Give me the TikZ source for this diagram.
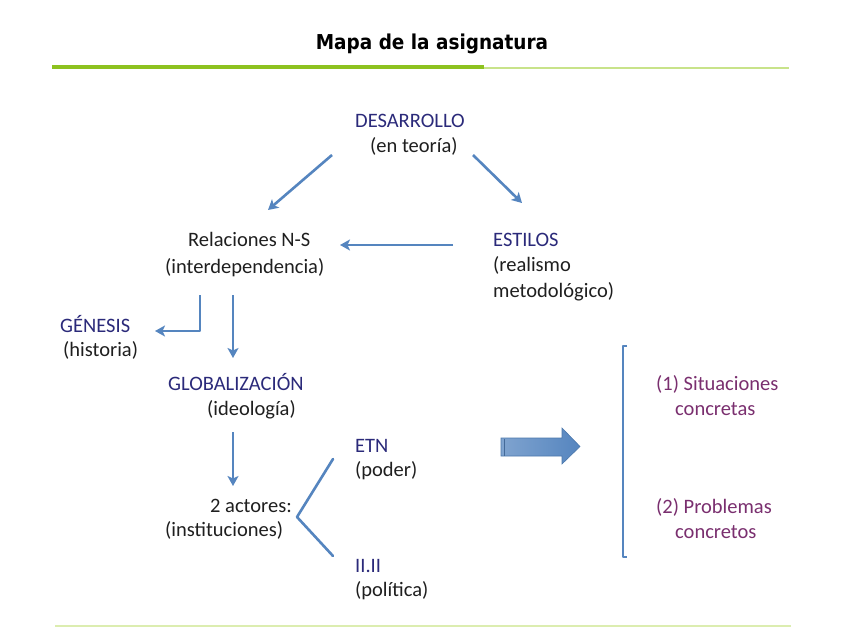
\documentclass[tikz,border=0pt]{standalone}
\usepackage{fontspec}
\setmainfont{Carlito}
\newfontfamily\titlefont[FakeStretch=0.9]{DejaVu Sans}
\usetikzlibrary{arrows.meta}
\definecolor{navy}{HTML}{2B2A7A}
\definecolor{txtgray}{HTML}{1F1F1F}
\definecolor{purp}{HTML}{7A2F6F}
\definecolor{arrblue}{HTML}{5585BF}
\definecolor{grnA}{HTML}{8DC21F}
\definecolor{grnB}{HTML}{C8E38A}
\definecolor{grnC}{HTML}{DCEDB0}
\tikzset{
  lbl/.style={inner sep=0pt, anchor=base west, font=\fontsize{20.5}{25}\selectfont},
  hd/.style={lbl, text=navy},
  sub/.style={lbl, text=txtgray},
  pur/.style={lbl, text=purp},
  arr/.style={draw=arrblue, line width=2.6pt, -{Stealth[length=10pt,width=11pt,inset=2.5pt]}},
  ln/.style={draw=arrblue, line width=2.6pt, line cap=round, line join=round},
}
\begin{document}
\begin{tikzpicture}[x=1pt,y=-1pt]
\useasboundingbox[fill=white] (0,0) rectangle (848,636);
% title and rules
\node[inner sep=0pt, anchor=base, font=\titlefont\bfseries\fontsize{20.5}{24}\selectfont] (title) at (432,50) {Mapa de la asignatura};
\draw[grnA, line width=4pt] (52,67) -- (484,67);
\draw[grnB, line width=2pt] (484,68) -- (789,68);
\draw[grnC, line width=2pt] (55,626) -- (791,626);
% texts
\node[hd] (des) at (355,128) {DESARROLLO};
\node[sub] (desb) at (370,153) {(en teoría)};
\node[sub] (rel) at (188,247) {Relaciones N-S};
\node[sub] (relb) at (165,273) {(interdependencia)};
\node[hd] (est) at (493,247) {ESTILOS};
\node[sub] (estb) at (493,272) {(realismo};
\node[sub] (estc) at (493,297) {metodológico)};
\node[hd] (gen) at (60,332) {GÉNESIS};
\node[sub] (genb) at (63,356) {(historia)};
\node[hd] (glo) at (168,390) {GLOBALIZACIÓN};
\node[sub] (glob) at (207,415) {(ideología)};
\node[sub] (act) at (210,512) {2 actores:};
\node[sub] (actb) at (165,536) {(instituciones)};
\node[hd] (etn) at (355,452) {ETN};
\node[sub] (etnb) at (355,476) {(poder)};
\node[hd] (ii) at (355,572) {II.II};
\node[sub] (iib) at (355,596) {(política)};
\node[pur] (sit) at (656,390) {(1) Situaciones};
\node[pur] (sitb) at (675,415) {concretas};
\node[pur] (pro) at (656,513) {(2) Problemas};
\node[pur] (prob) at (675,538) {concretos};
% connector ends
\coordinate (a1s) at (332,155); \coordinate (a1e) at (268,210);
\coordinate (a2s) at (473,155); \coordinate (a2e) at (522,203);
\coordinate (a3s) at (453,245); \coordinate (a3e) at (340,245);
\coordinate (g1) at (200,295); \coordinate (g2) at (200,331); \coordinate (g3) at (155,331);
\coordinate (b1) at (233,295); \coordinate (b2) at (233,358);
\coordinate (c1) at (233,432); \coordinate (c2) at (233,486);
\coordinate (k1) at (333,459); \coordinate (k2) at (297,517); \coordinate (k3) at (333,556);
% connectors
\draw[arr] (a1s) -- (a1e);
\draw[arr] (a2s) -- (a2e);
\draw[arr] (a3s) -- (a3e);
\draw[arr, line join=round] (g1) -- (g2) -- (g3);
\draw[arr] (b1) -- (b2);
\draw[arr] (c1) -- (c2);
\draw[ln] (k1) -- (k2) -- (k3);
% block arrow
\shade[left color=arrblue!75!white, right color=arrblue, draw=arrblue!90!black, line width=0.6pt]
  (501,438) -- (562,438) -- (562,428) -- (580,446.5) -- (562,464) -- (562,456) -- (501,456) -- cycle;
\draw[arrblue!80!black, line width=0.6pt] (504,438.5) -- (504,455.5);
% big bracket
\draw[ln, line cap=butt] (627,346) -- (623,346) -- (623,557) -- (627,557);
\end{tikzpicture}
\end{document}
